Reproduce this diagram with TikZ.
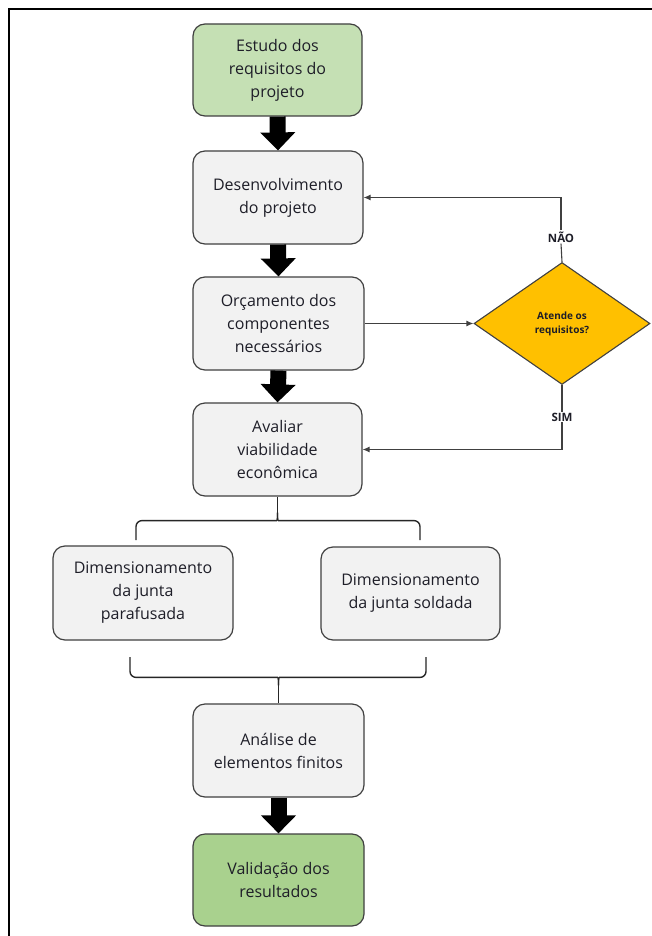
\documentclass[tikz,border=0pt]{standalone}
\usepackage{fontspec}
\setmainfont{Open Sans}
\usetikzlibrary{shapes.geometric,arrows.meta}
\definecolor{gA}{HTML}{C5E0B4}
\definecolor{gB}{HTML}{A9D18E}
\definecolor{gr}{HTML}{F2F2F2}
\definecolor{yl}{HTML}{FFC000}
\definecolor{bd}{HTML}{404040}
\definecolor{tx}{HTML}{1E1E28}
\tikzset{
  box/.style={draw=bd, line width=1.2pt, rounded corners=12pt, fill=gr, align=center,
    inner sep=0pt, text=tx, font=\fontsize{16}{23}\selectfont},
  fat/.style={line width=16pt, -{Triangle[width=34pt,length=18pt]}, black},
  thin/.style={line width=1.1pt, draw=bd, -{Latex[length=7pt,width=6pt]}},
  plain/.style={line width=1.1pt, draw=bd},
  brace/.style={line width=1.4pt, draw=black!85, rounded corners=6pt},
  lbl/.style={font=\bfseries\fontsize{11.5}{13}\selectfont, text=tx, inner sep=1pt}
}
\begin{document}
\begin{tikzpicture}[x=1pt,y=-1pt]
\useasboundingbox (0,0) rectangle (651,936);
\fill[white] (0,0) rectangle (651,936);
\draw[line width=1.5pt] (9,940) -- (9,9) -- (655,9);
% nodes
\node[box, fill=gA, minimum width=169pt, minimum height=92pt] (b1) at (277.5,70) {Estudo dos\\requisitos do\\projeto};
\node[box, minimum width=170pt, minimum height=93pt] (b2) at (278,197.5) {Desenvolvimento\\do projeto};
\node[box, minimum width=171pt, minimum height=93pt] (b3) at (278.5,323.5) {Orçamento dos\\componentes\\necessários};
\node[box, minimum width=169pt, minimum height=93pt] (b4) at (277.5,449.5) {Avaliar\\viabilidade\\econômica};
\node[box, minimum width=180pt, minimum height=94pt] (b5) at (143,593) {Dimensionamento\\da junta\\parafusada};
\node[box, minimum width=179pt, minimum height=93pt] (b6) at (410.5,593.5) {Dimensionamento\\da junta soldada};
\node[box, minimum width=171pt, minimum height=93pt] (b7) at (278.5,750.5) {Análise de\\elementos finitos};
\node[box, fill=gB, minimum width=171pt, minimum height=92pt] (b8) at (278.5,880) {Validação dos\\resultados};
\node[diamond, draw=bd, line width=1.1pt, fill=yl, minimum width=176pt, minimum height=122pt, inner sep=0pt,
  align=center, text=tx, font=\bfseries\fontsize{10}{14}\selectfont] (d) at (562,323.5) {Atende os\\requisitos?};
\node[lbl] (nao) at (561,237) {NÃO};
\node[lbl] (sim) at (562,417) {SIM};
% fat arrows
\draw[fat] (b1.south) -- (b2.north);
\draw[fat] (b2.south) -- (b3.north);
\draw[fat] (b3.south) -- (b4.north);
\draw[fat] (b7.south) -- (b8.north);
% thin connectors
\draw[thin] (b3.east) -- (d.west);
\draw[plain] (d.north) -- (nao.south);
\draw[thin] (nao.north) |- (b2.east);
\draw[plain] (d.south) -- (sim.north);
\draw[thin] (sim.south) |- (b4.east);
% braces
\path (b4.south) ++(0,16) coordinate (tm);
\coordinate (t1) at (136,540);
\coordinate (t2) at (420,540);
\draw[brace] (t1) |- ([xshift=-7pt,yshift=-8pt]tm) .. controls ([yshift=-8pt]tm) .. (tm);
\draw[brace] (t2) |- ([xshift=7pt,yshift=-8pt]tm) .. controls ([yshift=-8pt]tm) .. (tm);
\draw[line width=1.4pt, black!85] (tm) -- (b4.south);
\path (b7.north) ++(0,-18) coordinate (um);
\coordinate (u1) at (130,657);
\coordinate (u2) at (426,657);
\draw[brace] (u1) |- ([xshift=-7pt,yshift=8pt]um) .. controls ([yshift=8pt]um) .. (um);
\draw[brace] (u2) |- ([xshift=7pt,yshift=8pt]um) .. controls ([yshift=8pt]um) .. (um);
\draw[line width=1.4pt, black!85] (um) -- (b7.north);
\end{tikzpicture}
\end{document}
